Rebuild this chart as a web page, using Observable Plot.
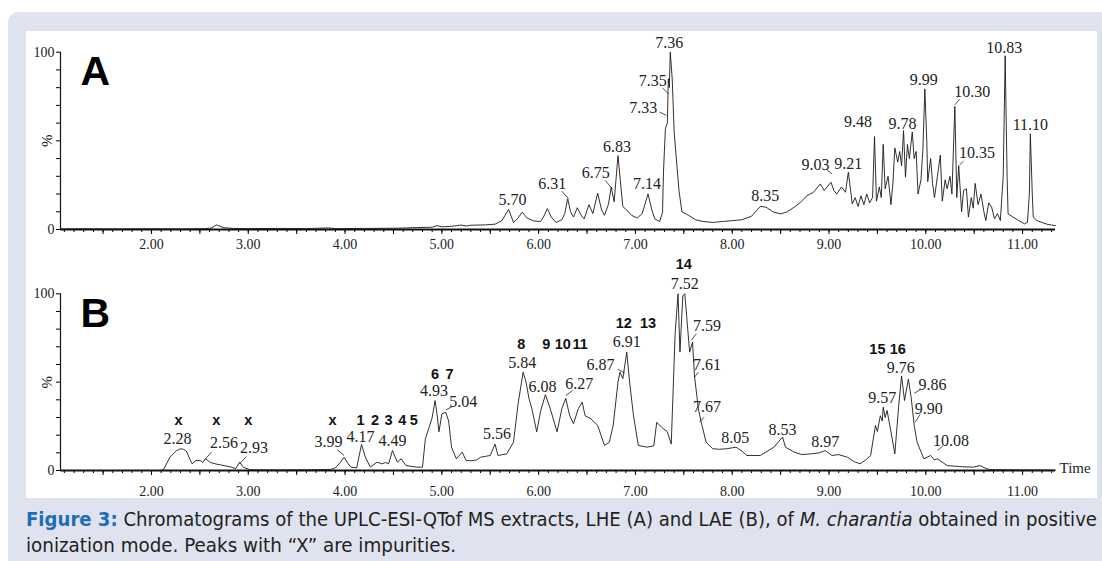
<!DOCTYPE html>
<html><head><meta charset="utf-8">
<script src="https://cdn.jsdelivr.net/npm/d3@7"></script>
<script src="https://cdn.jsdelivr.net/npm/@observablehq/plot@0.6"></script>
<style>
html,body{margin:0;padding:0;background:#fff;}
body{width:1102px;height:561px;overflow:hidden;position:relative;font-family:"Liberation Serif",serif;}
#frame{position:absolute;left:8px;top:12px;width:1094px;height:549px;background:#dfe3ef;border-radius:10px 0 0 0;}
#white{position:absolute;left:26px;top:31px;width:1071px;height:467px;background:#fff;}
#pa,#pb{position:absolute;left:0;}
#pa{top:31px;}
#pb{top:261px;}
#cap{position:absolute;left:0;top:500px;}
</style></head>
<body>
<div id="frame"></div>
<div id="white"></div>
<div id="pa"></div>
<div id="pb"></div>
<svg id="cap" width="1102" height="61" xmlns="http://www.w3.org/2000/svg">
  <text x="26" y="26" textLength="1071" lengthAdjust="spacingAndGlyphs" font-size="20" fill="#231f20" style="font-family:'Liberation Sans Narrow','DejaVu Sans Condensed','Liberation Sans',sans-serif;font-stretch:condensed"><tspan font-weight="bold" fill="#1f6db5">Figure 3:</tspan> Chromatograms of the UPLC-ESI-QTof MS extracts, LHE (A) and LAE (B), of <tspan font-style="italic">M. charantia</tspan> obtained in positive</text>
  <text x="26" y="52" textLength="430" lengthAdjust="spacingAndGlyphs" font-size="20" fill="#231f20" style="font-family:'Liberation Sans Narrow','DejaVu Sans Condensed','Liberation Sans',sans-serif;font-stretch:condensed">ionization mode. Peaks with “X” are impurities.</text>
</svg>
<script>
// ---------- Data: chromatogram A (LHE) ----------
const timeA = [1.06,1.30,1.60,2.00,2.30,2.55,2.62,2.67,2.70,2.75,2.85,3.00,3.30,3.60,3.83,3.90,4.20,4.50,4.70,4.90,4.95,5.00,5.10,5.20,5.25,5.30,5.45,5.55,
5.62,5.69,5.74,5.78,5.83,5.88,5.95,6.02,6.05,6.09,6.13,6.18,6.24,6.27,6.30,6.33,6.36,6.40,6.44,6.47,6.52,6.56,6.61,6.65,6.68,6.72,6.75,6.78,6.82,6.85,6.87,6.91,6.96,7.02,7.07,7.13,7.17,7.20,7.25,7.28,7.29,7.31,7.33,7.34,7.35,7.36,7.38,7.40,7.43,7.45,7.48,7.55,7.62,7.70,7.80,7.90,8.00,8.10,8.20,
8.29,8.35,8.42,8.50,8.57,8.64,8.70,8.77,8.84,8.91,8.95,8.98,9.02,9.05,9.08,9.13,9.17,9.20,9.24,9.27,9.30,9.33,9.36,9.39,9.42,9.45,9.47,9.49,9.52,9.54,9.56,9.58,9.61,9.64,9.66,9.68,9.71,9.73,9.75,9.77,9.79,9.81,9.83,9.86,9.88,9.90,9.92,9.95,9.97,9.99,10.01,10.02,10.05,10.07,10.09,10.12,10.15,10.17,10.20,10.22,10.25,10.27,10.30,10.32,10.34,10.37,10.39,10.42,10.44,10.47,10.49,10.51,10.54,10.57,10.60,10.62,10.65,10.68,10.71,10.74,10.77,10.80,10.82,10.84,10.85,10.90,10.96,11.02,11.05,11.07,11.08,11.10,11.11,11.15,11.20,11.25,11.30,11.34];
const intensityA = [0.3,0.4,0.3,0.4,0.3,0.5,0.8,2.6,2.0,1.0,0.6,0.5,0.6,0.5,0.9,0.5,0.6,0.7,1.0,1.3,2.2,1.5,1.8,2.5,2.0,2.4,2.6,3.0,
5.0,11.3,4.0,6.0,9.8,6.5,4.8,4.5,7.0,11.8,7.0,4.0,5.5,9.0,17.3,10.0,7.0,12.3,8.0,6.0,14.0,9.0,20.5,11.0,8.0,14.0,23.9,15.6,41.7,24.0,12.9,11.0,8.0,6.5,9.0,20.1,11.0,6.0,4.5,9.7,33.0,57.0,60.0,85.0,80.0,100,85,55,35,22,10,8.0,5.5,4.5,4.0,4.5,5.0,5.5,7.5,
13,12.6,10,8.8,10,12.6,15,19,21,25.7,22,24,26.7,22,20,24,21,32.3,14.4,18,13,19,14,20,15,18,52.4,16,24,18,48,23,30,14,26,46,38,44,36,55.8,29.5,48,40,55,40,44,20,28,45,79.3,50,27,40,26,18,30,42,16,28,23,30,20,69.4,18,36,10,22,23,7,18,12,26,14,20,10,5,15,12.6,6,9,5,30,98,30,8.8,7,5,3.2,4,20,54,20,7,5,4,3,2.5,2.2];

// Peak labels A (retention times) and their anchor in data units
const labelTextA = ["5.70","6.31","6.75","6.83","7.14","7.33","7.35","7.36","8.35","9.03","9.21","9.48","9.78","9.99","10.30","10.35","10.83","11.10"];
const labelXA = [5.73,6.14,6.59,6.81,7.12,7.08,7.18,7.35,8.34,8.86,9.20,9.30,9.76,9.98,10.48,10.53,10.81,11.08];
const labelYA = [16.9,25.9,32.1,46.8,25.9,68.8,84.0,105.5,19.2,36.7,37.2,60.9,59.8,84.6,77.8,43.4,102.6,59.2];
// Leader lines A
const leadX1A = [6.24,6.69,7.25,7.28,8.97,10.30,10.35];
const leadY1A = [21.6,27.6,66.2,79.9,34.2,70.3,36.5];
const leadX2A = [6.31,6.76,7.32,7.34,9.03,10.35,10.39];
const leadY2A = [17.3,23.0,64.3,76.5,31.4,73.5,38.5];

// ---------- Data: chromatogram B (LAE) ----------
const timeB = [1.06,2.10,2.13,2.19,2.26,2.30,2.33,2.36,2.40,2.42,2.46,2.51,2.53,2.56,2.61,2.68,2.75,2.82,2.87,2.91,2.95,3.02,3.30,3.60,3.85,3.90,3.95,3.99,4.03,4.06,4.12,4.17,4.21,4.26,4.30,4.33,4.38,4.42,4.45,4.49,4.54,4.58,4.63,4.74,4.80,4.83,4.86,4.90,4.93,4.95,4.97,5.00,5.04,5.07,5.10,5.15,5.21,5.25,5.30,5.36,5.40,5.45,5.50,5.55,5.58,5.63,5.67,5.74,5.79,5.84,5.87,5.90,5.93,5.98,6.02,6.07,6.12,6.19,6.24,6.28,6.32,6.36,6.41,6.45,6.48,6.54,6.61,6.68,6.73,6.77,6.82,6.84,6.87,6.91,6.94,6.98,7.03,7.12,7.19,7.22,7.27,7.33,7.37,7.41,7.44,7.46,7.49,7.51,7.53,7.56,7.59,7.61,7.65,7.68,7.73,7.80,7.87,7.94,8.04,8.10,8.15,8.29,8.43,8.52,8.55,8.64,8.72,8.81,8.90,8.96,9.03,9.10,9.19,9.26,9.32,9.38,9.43,9.48,9.50,9.53,9.55,9.56,9.58,9.60,9.64,9.68,9.72,9.75,9.78,9.82,9.85,9.88,9.91,9.98,10.05,10.09,10.12,10.22,10.35,10.49,10.56,10.62,10.66,11.00,11.34];
const intensityB = [0,0,1,7.5,11.3,12.3,12.0,11,6,3.8,5.7,5.5,4.5,6.6,4.5,3.5,2.8,2,1,4.7,1.8,0.4,0.3,0.4,0.6,1.5,4.5,7.5,4,1.9,1.5,14.7,7.5,2,3.5,4.7,3.8,4.5,3.8,11.3,4.7,6.6,2.8,1.9,1.9,18,23,30,39.6,32,21.9,32,33,28,13.2,6.6,10.4,5.7,5.5,6,7.5,8,8.5,14.9,8.5,9,9.4,16,38.7,55.6,50,40.8,35,21.9,33.5,42.9,35,21.9,35,40.8,31.2,26.5,35,38.7,31,29.3,25.5,14.2,16,25.5,50,55.6,52,67,50,31,14.2,13.2,14,27.3,24.5,21.9,15,77.4,100,67,99,100,87,67,72.6,53.5,35,27.3,16,12.3,12,12.3,13.2,11,8.5,8.5,13.2,18.9,13.2,10.4,9,9.4,10,11.3,8.5,9,7.5,5,3.8,6,8.5,25.5,22,31,28,35.8,30,34,21.9,9.4,36.7,53.5,39.6,51.7,40.8,25.5,16,6.6,8.5,6,6.6,2.8,2.2,1.9,2.8,1.2,0.5,0.3,0.2];

const labelTextB = ["2.28","2.56","2.93","3.99","4.17","4.49","4.93","5.04","5.56","5.84","6.08","6.27","6.87","6.91","7.52","7.59","7.61","7.67","8.05","8.53","8.97","9.57","9.76","9.86","9.90","10.08"];
const labelXB = [2.27,2.75,3.06,3.83,4.16,4.49,4.92,5.22,5.57,5.83,6.04,6.42,6.64,6.91,7.51,7.74,7.74,7.74,8.03,8.52,8.96,9.55,9.74,10.07,10.03,10.26];
const labelYB = [18.1,15.8,13.0,16.4,19.2,17.0,45.3,39.0,20.9,61.1,47.5,49.2,60.0,73.0,105.8,82.0,60.0,36.2,18.7,23.2,16.4,41.3,58.3,48.7,35.1,17.0];
const leadX1B = [2.62,2.98,3.92,5.11,6.35,6.82,7.63,7.65,7.71,9.94,9.94,10.18];
const leadY1B = [10.4,7.9,11.7,36.2,45.3,57.2,77.4,55.6,30.2,45.7,31.7,14.1];
const leadX2B = [2.55,2.91,3.99,5.04,6.28,6.89,7.58,7.61,7.66,9.88,9.89,10.12];
const leadY2B = [6.1,3.8,8.5,34.3,42.4,55.1,74.0,52.8,27.3,43.7,27.3,11.3];
// Compound numbers / impurity marks
const compoundText = ["x","x","x","x","1","2","3","4","5","6","7","8","9","10","11","12","13","14","15","16"];
const compoundX = [2.28,2.67,3.00,3.87,4.16,4.31,4.45,4.59,4.71,4.93,5.08,5.82,6.08,6.25,6.43,6.88,7.13,7.50,9.50,9.71];
const compoundY = [28.3,28.3,28.3,28.4,28.6,28.6,28.6,28.6,28.6,54.3,54.3,71.3,71.3,71.3,71.3,83.2,83.2,116.6,68.5,68.5];

// Axis ticks
const xDomain = [1.06, 11.34];
const xTickLabels = [2,3,4,5,6,7,8,9,10,11];
const yTicks = [0,10,20,30,40,50,60,70,80,90,100];

const serif = "Liberation Serif, Times New Roman, serif";
const sans = "Liberation Sans, Arial, sans-serif";

function rows(xs, ys){ return xs.map((x,i)=>({x, y: ys[i]})); }
function labelRows(t, xs, ys){ return t.map((s,i)=>({text:s, x:xs[i], y:ys[i]})); }
function leaderRows(x1,y1,x2,y2){ return x1.map((v,i)=>({x1:v,y1:y1[i],x2:x2[i],y2:y2[i]})); }

function panel(o){
  const minor = d3.range(11,114).map(i=>i/10);
  const half = d3.range(3,23).map(i=>i/2);
  const marks = [
    Plot.axisX({ticks: minor, tickSize: 3, tickFormat: () => "", label: null, strokeWidth: 1}),
    Plot.axisX({ticks: half, tickSize: 5, tickFormat: () => "", label: null, strokeWidth: 1}),
    Plot.axisX({ticks: xTickLabels, tickSize: 0, tickPadding: o.labelPad, tickFormat: d => d.toFixed(2), label: null, fontSize: 14, fontFamily: serif, fill: "#222"}),
    Plot.axisY({ticks: yTicks, tickSize: 4, tickPadding: 2, tickFormat: d => (d === 0 || d === 100) ? String(d) : "", label: null, fontSize: 14, fontFamily: serif, fill: "#222"}),
    Plot.ruleY([0], {x1: xDomain[0], x2: xDomain[1], strokeWidth: 2, stroke: "#111"}),
    Plot.ruleX([xDomain[0]], {y1: 0, y2: 100, strokeWidth: 1.2, stroke: "#111"}),
    Plot.text(["%"], {x: xDomain[0], y: 50, dx: -13, rotate: -90, fontSize: 15, fontFamily: serif, fill: "#222"}),
    Plot.line(rows(o.times, o.vals), {x: "x", y: "y", stroke: "#1a1a1a", strokeWidth: 0.9}),
    Plot.link(o.leaders, {x1: "x1", y1: "y1", x2: "x2", y2: "y2", stroke: "#222", strokeWidth: 0.8}),
    Plot.text(o.labels, {x: "x", y: "y", text: "text", fontSize: 16, fontFamily: serif, fill: "#222"}),
    Plot.text([o.letter], {frameAnchor: "top-left", textAnchor: "start", lineAnchor: "top", dx: 20, dy: o.letterDy, fontSize: 41, fontWeight: "bold", fontFamily: sans, fill: "#000"})
  ];
  if (o.bold) marks.push(Plot.text(o.bold, {x: "x", y: "y", text: "text", fontSize: 14.5, fontWeight: "bold", fontFamily: sans, fill: "#111"}));
  if (o.time) marks.push(Plot.text(["Time"], {frameAnchor: "bottom-right", textAnchor: "start", dx: 4, dy: 2, fontSize: 15, fontFamily: serif, fill: "#222"}));
  return Plot.plot({
    width: 1102, height: o.height,
    marginLeft: 60, marginRight: 47, marginTop: o.mt, marginBottom: o.mb,
    x: {domain: xDomain},
    y: {domain: [0, 100]},
    style: {background: "transparent", overflow: "visible", fontFamily: serif},
    marks
  });
}

document.getElementById("pa").append(panel({
  times: timeA, vals: intensityA,
  labels: labelRows(labelTextA, labelXA, labelYA),
  leaders: leaderRows(leadX1A, leadY1A, leadX2A, leadY2A),
  letter: "A", letterDy: 4, height: 230, mt: 20.7, mb: 32, labelPad: 10
}));
document.getElementById("pb").append(panel({
  times: timeB, vals: intensityB,
  labels: labelRows(labelTextB, labelXB, labelYB),
  leaders: leaderRows(leadX1B, leadY1B, leadX2B, leadY2B),
  bold: labelRows(compoundText, compoundX, compoundY),
  letter: "B", letterDy: 4, height: 239, mt: 32.3, mb: 30, labelPad: 16, time: true
}));
</script>
</body></html>
